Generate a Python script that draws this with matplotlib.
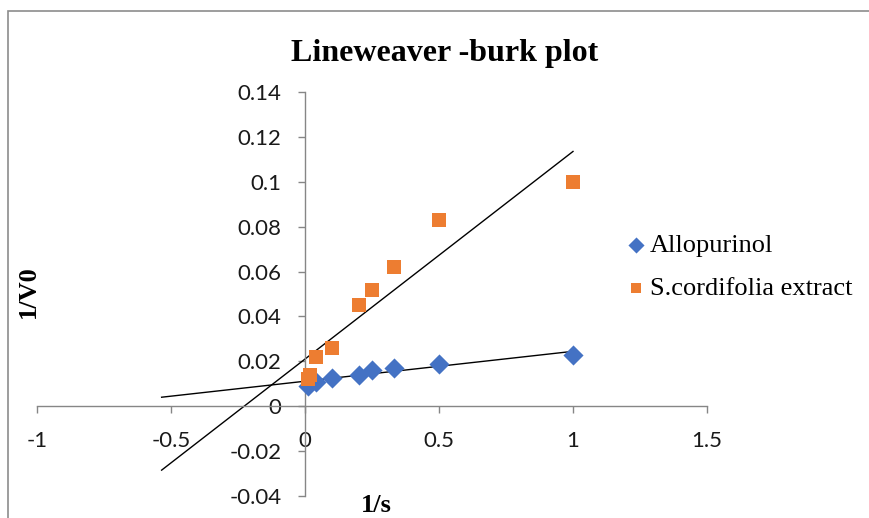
import numpy as np
import matplotlib
matplotlib.use("Agg")
import matplotlib.pyplot as plt
from matplotlib.patches import Rectangle

# =====================================
# Datos
# =====================================
inv_s_allo = [0.01, 0.04, 0.1, 0.2, 0.25, 0.333, 0.5, 1.0]
inv_v_allo = [0.009, 0.011, 0.0125, 0.014, 0.016, 0.017, 0.019, 0.023]

inv_s_scord = [0.01, 0.02, 0.04, 0.1, 0.2, 0.25, 0.333, 0.5, 1.0]
inv_v_scord = [0.012, 0.014, 0.022, 0.026, 0.045, 0.052, 0.062, 0.083, 0.100]

x_ticks = [-1, -0.5, 0, 0.5, 1, 1.5]
x_tick_labels = ["-1", "-0.5", "0", "0.5", "1", "1.5"]
y_ticks = [-0.04, -0.02, 0, 0.02, 0.04, 0.06, 0.08, 0.1, 0.12, 0.14]
y_tick_labels = ["-0.04", "-0.02", "0", "0.02", "0.04", "0.06", "0.08", "0.1", "0.12", "0.14"]

# =====================================
# Estilo
# =====================================
AZUL = '#4472C4'
NARANJA = '#ED7D31'
GRIS = '#868686'
SERIF = ['Liberation Serif', 'DejaVu Serif']
SANS = ['Lato', 'DejaVu Sans']

backward = 0.545   # pronóstico hacia atrás de la línea de tendencia

fig = plt.figure(figsize=(8.69, 5.18), dpi=100)
ax = fig.add_axes([37 / 869, 1 - 496 / 518, (707 - 37) / 869, (496 - 92) / 518])

ax.scatter(inv_s_allo, inv_v_allo, marker='D', s=105, color=AZUL, zorder=3,
           label='Allopurinol', linewidths=0)
ax.scatter(inv_s_scord, inv_v_scord, marker='s', s=95, color=NARANJA, zorder=3,
           label='S.cordifolia extract', linewidths=0)

# Líneas de tendencia (ajuste lineal)
for xs, ys in [(inv_s_allo, inv_v_allo), (inv_s_scord, inv_v_scord)]:
    m, b = np.polyfit(xs, ys, 1)
    xl = np.array([min(xs) - backward, max(xs)])
    ax.plot(xl, m * xl + b, color='black', linewidth=1.0, zorder=2)

ax.set_xlim(-1, 1.5)
ax.set_ylim(-0.04, 0.14)

ax.spines['left'].set_position(('data', 0))
ax.spines['bottom'].set_position(('data', 0))
ax.spines['right'].set_visible(False)
ax.spines['top'].set_visible(False)
for sp in ('left', 'bottom'):
    ax.spines[sp].set_color(GRIS)
    ax.spines[sp].set_linewidth(1.0)

ax.set_xticks(x_ticks)
ax.set_xticklabels(x_tick_labels)
ax.set_yticks(y_ticks)
ax.set_yticklabels(y_tick_labels)
ax.tick_params(axis='both', colors=GRIS, length=5, width=1.0, direction='out',
               labelcolor='#1a1a1a', labelsize=16)
ax.tick_params(axis='x', pad=13)
ax.tick_params(axis='y', pad=12)
for lab in ax.get_xticklabels() + ax.get_yticklabels():
    lab.set_family(SANS)
ax.patch.set_alpha(0)

fig.text(445 / 869, 1 - 53 / 518, 'Lineweaver -burk plot', ha='center', va='center',
         fontsize=23, fontweight='bold', family=SERIF)
fig.text(28 / 869, 1 - 292 / 518, '1/V0', ha='center', va='center', rotation=90,
         fontsize=19, fontweight='bold', family=SERIF)
fig.text(376 / 869, 1 - 505 / 518, '1/s', ha='center', va='center',
         fontsize=19, fontweight='bold', family=SERIF)

leg = ax.legend(loc='center left', bbox_to_anchor=(610 / 869, 1 - 267 / 518),
                bbox_transform=fig.transFigure, frameon=False,
                prop={'family': SERIF, 'size': 19}, handletextpad=-0.1,
                labelspacing=0.75, handlelength=1.2, borderaxespad=0,
                markerscale=0.8)

# Marco del área del gráfico
fig.patches.append(Rectangle((8 / 869, -0.05), 1.2, 1 - 11 / 518 + 0.05,
                             transform=fig.transFigure, fill=False,
                             edgecolor='#8c8c8c', linewidth=1.2))

fig.savefig('out.png', dpi=100)
